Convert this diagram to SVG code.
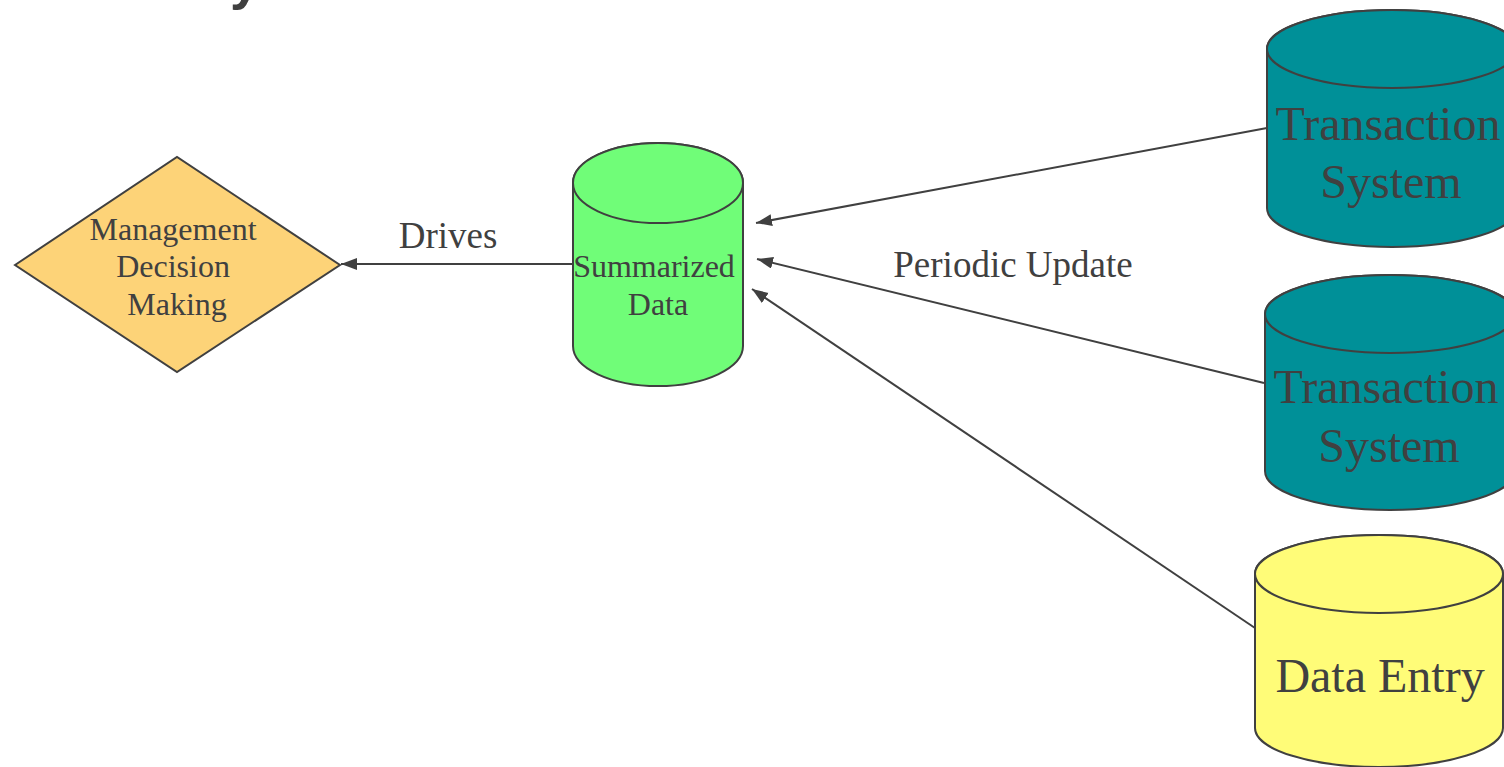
<svg xmlns="http://www.w3.org/2000/svg" width="1504" height="767" viewBox="0 0 1504 767">
  <style>
    .edge { fill: none; stroke: #404040; stroke-width: 2; }
    .shape { stroke: #404040; stroke-width: 2; }
    .lbl { font-family: "Liberation Serif", "Times New Roman", serif; fill: #404040; text-anchor: middle; }
    .title { font-family: "Liberation Sans", Arial, sans-serif; font-weight: bold; fill: #404040; }
  </style>
  <defs>
    <marker id="arrow" markerUnits="userSpaceOnUse" markerWidth="17" markerHeight="13" refX="16" refY="6" orient="auto">
      <path d="M0,0 L16,6 L0,12 Z" fill="#404040"/>
    </marker>
  </defs>

  <rect width="1504" height="767" fill="#ffffff"/>

  <!-- title line above the drawing, mostly out of frame -->
  <text class="title" x="230" y="-1" font-size="54">y</text>

  <!-- connectors -->
  <g id="connectors">
    <path class="edge" d="M573,264 L341,264" marker-end="url(#arrow)"/>
    <path class="edge" d="M1267,128 L756,223" marker-end="url(#arrow)"/>
    <path class="edge" d="M1264,383 L757,259" marker-end="url(#arrow)"/>
    <path class="edge" d="M1255,628 L752,289" marker-end="url(#arrow)"/>
    <text class="lbl" x="448" y="248" font-size="37">Drives</text>
    <text class="lbl" x="1013" y="277" font-size="37">Periodic Update</text>
  </g>

  <!-- decision node -->
  <g id="management">
    <path class="shape" d="M15,265 L177,157 L340,265 L177,372 Z" fill="#FDD378"/>
    <text class="lbl" font-size="32">
      <tspan x="177" y="240">Management</tspan>
      <tspan x="177" y="277">Decision</tspan>
      <tspan x="177" y="315">Making</tspan>
    </text>
  </g>

  <!-- summary store -->
  <g id="summarized">
    <path class="shape" d="M573,183 A85,40 0 0 1 743,183 V346 A85,40 0 0 1 573,346 Z" fill="#70FD78"/>
    <ellipse class="shape" cx="658" cy="183" rx="85" ry="40" fill="#70FD78"/>
    <text class="lbl" font-size="32">
      <tspan x="658" y="277">Summarized</tspan>
      <tspan x="658" y="315">Data</tspan>
    </text>
  </g>

  <!-- source stores -->
  <g id="transaction1">
    <path class="shape" d="M1267,49 A125,39 0 0 1 1517,49 V208 A125,39 0 0 1 1267,208 Z" fill="#009098"/>
    <ellipse class="shape" cx="1392" cy="49" rx="125" ry="39" fill="#009098"/>
    <text class="lbl" font-size="48">
      <tspan x="1394" y="140">Transaction</tspan>
      <tspan x="1391" y="198">System</tspan>
    </text>
  </g>

  <g id="transaction2">
    <path class="shape" d="M1265,314 A125,39 0 0 1 1515,314 V471 A125,39 0 0 1 1265,471 Z" fill="#009098"/>
    <ellipse class="shape" cx="1390" cy="314" rx="125" ry="39" fill="#009098"/>
    <text class="lbl" font-size="48">
      <tspan x="1392" y="403">Transaction</tspan>
      <tspan x="1389" y="462">System</tspan>
    </text>
  </g>

  <g id="dataentry">
    <path class="shape" d="M1255,574 A124,39 0 0 1 1503,574 V728 A124,39 0 0 1 1255,728 Z" fill="#FFFC78"/>
    <ellipse class="shape" cx="1379" cy="574" rx="124" ry="39" fill="#FFFC78"/>
    <text class="lbl" x="1380" y="692" font-size="48">Data Entry</text>
  </g>
</svg>
